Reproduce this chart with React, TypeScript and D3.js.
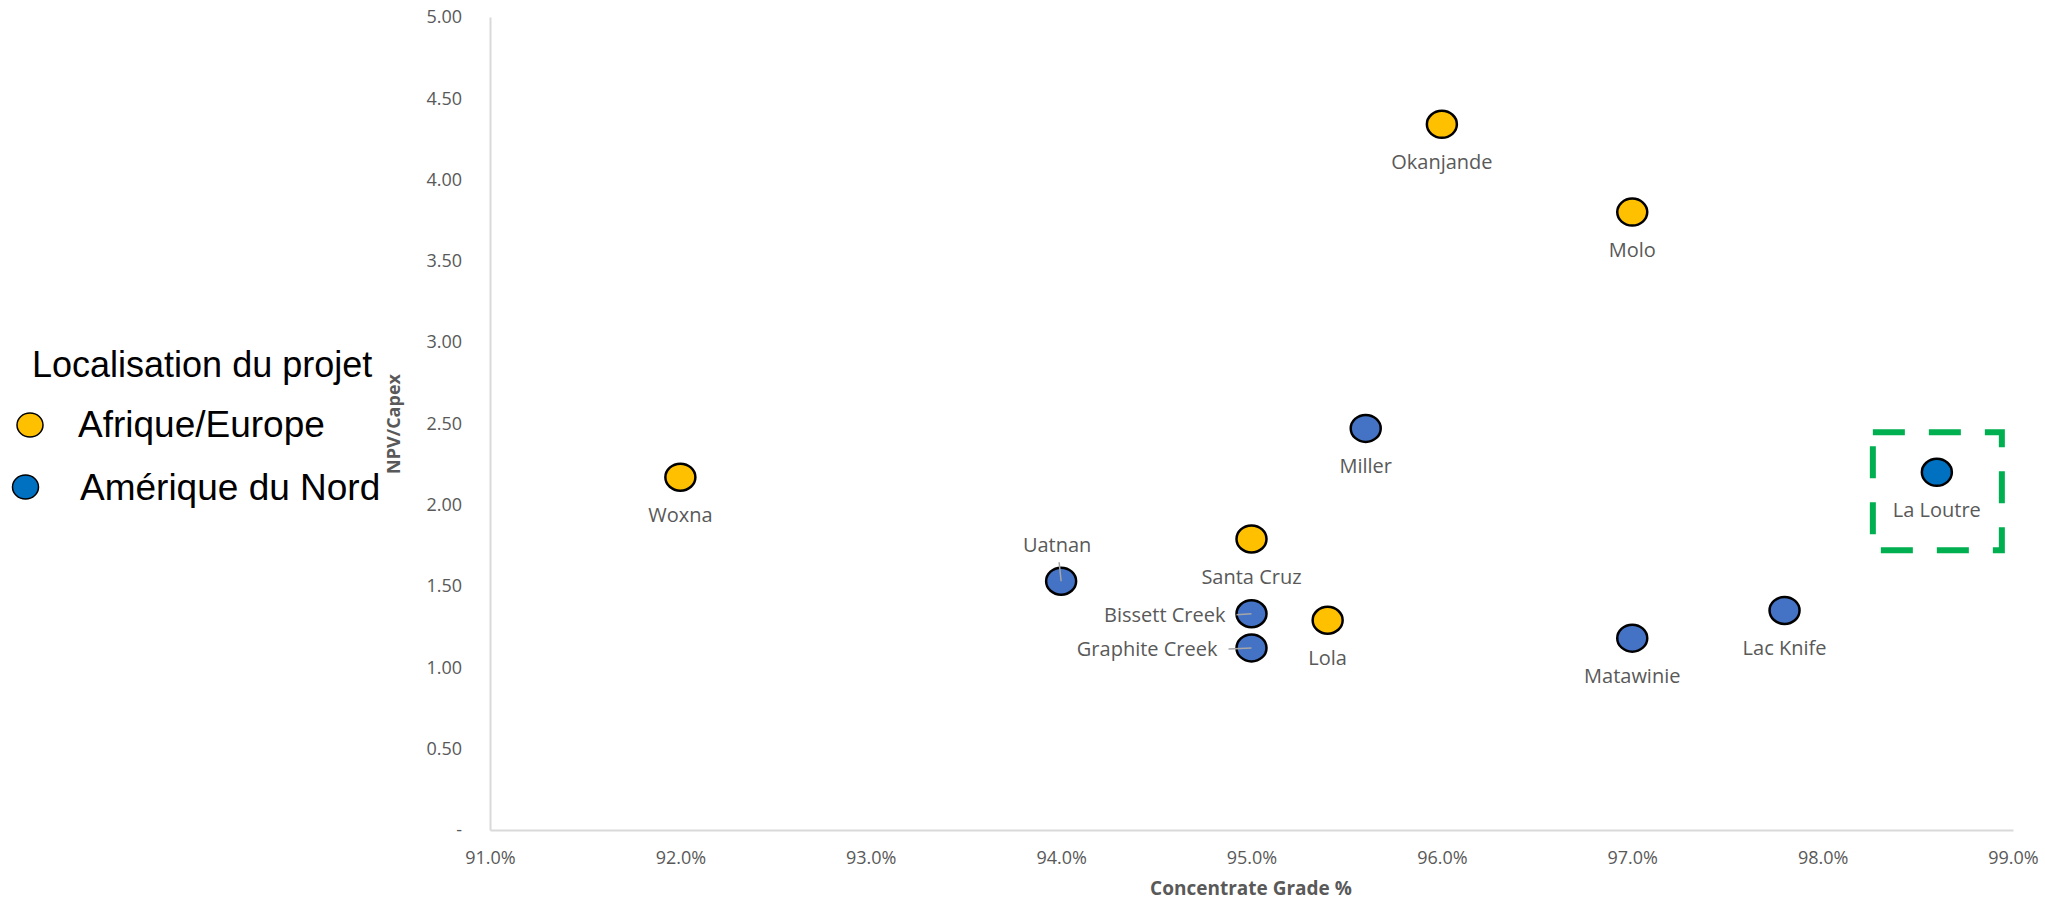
import React, { useEffect, useRef } from "react";
import * as d3 from "d3";

// projects
const projectNames = ["Woxna", "Uatnan", "Santa Cruz", "Bissett Creek", "Graphite Creek", "Lola", "Miller", "Okanjande", "Molo", "Matawinie", "Lac Knife", "La Loutre"];
const concentrateGrade = [92.0, 94.0, 95.0, 95.0, 95.0, 95.4, 95.6, 96.0, 97.0, 97.0, 97.8, 98.6];
const npvCapex = [2.17, 1.53, 1.79, 1.33, 1.12, 1.29, 2.47, 4.34, 3.8, 1.18, 1.35, 2.2];
const projectRegion = ["Afrique/Europe", "Amérique du Nord", "Afrique/Europe", "Amérique du Nord", "Amérique du Nord", "Afrique/Europe", "Amérique du Nord", "Afrique/Europe", "Afrique/Europe", "Amérique du Nord", "Amérique du Nord", "Amérique du Nord"];

const legendTitle = "Localisation du projet";
const regionNames = ["Afrique/Europe", "Amérique du Nord"];
const xTicks = [91, 92, 93, 94, 95, 96, 97, 98, 99];
const yTicks = [0, 0.5, 1, 1.5, 2, 2.5, 3, 3.5, 4, 4.5, 5];
const highlighted = "La Loutre";

const width = 2045;
const height = 902;

const App: React.FC = () => {
  const svgRef = useRef<SVGSVGElement>(null);

  useEffect(() => {
    const svg = d3.select(svgRef.current);
    svg.selectAll("*").remove();

    const x = d3.scaleLinear().domain([91, 99]).range([490, 2013]);
    const y = d3.scaleLinear().domain([0, 5]).range([830, 17]);

    const regionColor = d3.scaleOrdinal<string, string>().domain(regionNames).range(["#FFC000", "#4472C4"]);
    const legendColor = d3.scaleOrdinal<string, string>().domain(regionNames).range(["#FFC000", "#0070C0"]);

    const grey = "#595959";
    const tickFont = "'Open Sans', sans-serif";

    // y axis
    const yAxis = d3.axisLeft(y)
      .tickValues(yTicks)
      .tickSize(0)
      .tickPadding(28)
      .tickFormat((d) => (+d === 0 ? "-" : d3.format(".2f")(+d)));
    const gy = svg.append("g").attr("transform", `translate(${x(91)},0)`).call(yAxis);
    gy.select(".domain").attr("stroke", "#D9D9D9").attr("stroke-width", 2);
    gy.selectAll("text").attr("fill", grey).style("font", `18px ${tickFont}`);

    // x axis
    const xAxis = d3.axisBottom(x)
      .tickValues(xTicks)
      .tickSize(0)
      .tickPadding(21)
      .tickFormat((d) => `${(+d).toFixed(1)}%`);
    const gx = svg.append("g").attr("transform", `translate(0,${y(0)})`).call(xAxis);
    gx.select(".domain").attr("stroke", "#D9D9D9").attr("stroke-width", 2);
    gx.selectAll("text").attr("fill", grey).style("font", `18px ${tickFont}`);

    // axis titles
    svg.append("text")
      .attr("x", 1251).attr("y", 888).attr("dy", "0.35em")
      .attr("text-anchor", "middle")
      .attr("fill", grey)
      .style("font", `bold 19px ${tickFont}`)
      .text("Concentrate Grade %");

    svg.append("text")
      .attr("transform", "translate(394,424) rotate(-90)")
      .attr("dy", "0.35em")
      .attr("text-anchor", "middle")
      .attr("fill", grey)
      .style("font", `bold 18px ${tickFont}`)
      .text("NPV/Capex");

    const points = projectNames.map((name, i) => ({
      name,
      grade: concentrateGrade[i],
      ratio: npvCapex[i],
      region: projectRegion[i],
    }));

    // highlight box around La Loutre
    const hl = points.find((p) => p.name === highlighted)!;
    const hx = x(hl.grade);
    const hy = y(hl.ratio);
    svg.append("rect")
      .attr("x", hx - 64).attr("y", hy - 40)
      .attr("width", 129).attr("height", 118)
      .attr("fill", "none")
      .attr("stroke", "#00B050")
      .attr("stroke-width", 6)
      .attr("stroke-dasharray", "32,24");

    // markers
    svg.append("g")
      .selectAll("ellipse")
      .data(points)
      .join("ellipse")
      .attr("cx", (d) => x(d.grade))
      .attr("cy", (d) => y(d.ratio))
      .attr("rx", 15)
      .attr("ry", 13.5)
      .attr("fill", (d) => (d.name === highlighted ? "#0070C0" : regionColor(d.region)))
      .attr("stroke", "#000")
      .attr("stroke-width", 2.5);

    // data labels
    const labelSide: Record<string, string> = { Uatnan: "above", "Bissett Creek": "left", "Graphite Creek": "left" };
    const labelGap: Record<string, number> = { "Bissett Creek": 26, "Graphite Creek": 34 };

    const labels = svg.append("g").style("font", `20px ${tickFont}`).attr("fill", grey);
    points.forEach((d) => {
      const px = x(d.grade);
      const py = y(d.ratio);
      const side = labelSide[d.name] || "below";
      if (side === "below") {
        labels.append("text").attr("x", px).attr("y", py + 38).attr("dy", "0.35em")
          .attr("text-anchor", "middle").text(d.name);
      } else if (side === "above") {
        labels.append("text").attr("x", px - 4).attr("y", py - 36).attr("dy", "0.35em")
          .attr("text-anchor", "middle").text(d.name);
        svg.append("line").attr("x1", px - 2).attr("y1", py - 19).attr("x2", px).attr("y2", py)
          .attr("stroke", "#A6A6A6").attr("stroke-width", 1.5);
      } else {
        const gap = labelGap[d.name];
        labels.append("text").attr("x", px - gap).attr("y", py + 1).attr("dy", "0.35em")
          .attr("text-anchor", "end").text(d.name);
        svg.append("line").attr("x1", px - gap + 11).attr("y1", py + 1).attr("x2", px).attr("y2", py)
          .attr("stroke", "#A6A6A6").attr("stroke-width", 1.5);
      }
    });

    // legend
    const legendFont = "'Liberation Sans', Arial, sans-serif";
    svg.append("text")
      .attr("x", 32).attr("y", 377)
      .attr("fill", "#000")
      .style("font", `36px ${legendFont}`)
      .text(legendTitle);

    const legendRows = [
      { cx: 30, cy: 425, tx: 78, ty: 437 },
      { cx: 25.5, cy: 487, tx: 80, ty: 500 },
    ];
    regionNames.forEach((name, i) => {
      const r = legendRows[i];
      svg.append("ellipse")
        .attr("cx", r.cx).attr("cy", r.cy)
        .attr("rx", 13).attr("ry", 12)
        .attr("fill", legendColor(name))
        .attr("stroke", "#000")
        .attr("stroke-width", 1.5);
      svg.append("text")
        .attr("x", r.tx).attr("y", r.ty)
        .attr("fill", "#000")
        .style("font", `37px ${legendFont}`)
        .text(name);
    });
  }, []);

  return (
    <svg
      ref={svgRef}
      width={width}
      height={height}
      style={{ position: "absolute", left: 0, top: 0, background: "#fff" }}
    />
  );
};

export default App;
